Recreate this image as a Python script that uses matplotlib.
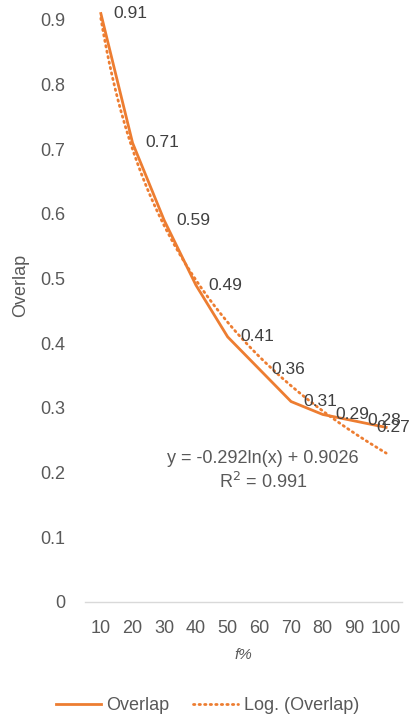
import numpy as np
import matplotlib
matplotlib.use("Agg")
import matplotlib.pyplot as plt
from matplotlib.lines import Line2D

categories = ["10", "20", "30", "40", "50", "60", "70", "80", "90", "100"]
overlap = [0.91, 0.71, 0.59, 0.49, 0.41, 0.36, 0.31, 0.29, 0.28, 0.27]
trend_a = -0.292
trend_b = 0.9026
yticks = [0, 0.1, 0.2, 0.3, 0.4, 0.5, 0.6, 0.7, 0.8, 0.9]

orange = "#ED7D31"
gray = "#595959"
plt.rcParams['font.family'] = ['Liberation Sans', 'DejaVu Sans']

fig = plt.figure(figsize=(4.15, 7.17), dpi=100)
ax = fig.add_axes([85/415, 1-602/717, 317/415, 582/717])

x = np.arange(1, len(categories) + 1)
ax.plot(x, overlap, color=orange, lw=2.0, clip_on=False, solid_joinstyle='miter', zorder=3)
xt = np.linspace(1, len(categories), 200)
ax.plot(xt, trend_a * np.log(xt) + trend_b, color=orange, lw=2.0,
        linestyle=(0, (0.5, 1.5)), dash_capstyle='round', clip_on=False, zorder=2)

for i, (xi, v) in enumerate(zip(x, overlap)):
    dx = 9 if i < len(overlap) - 1 else -7
    ax.annotate(f"{v:.2f}", (xi, v), xytext=(dx, 0), textcoords='offset points',
                ha='left', va='center', fontsize=12.5, color='#404040', zorder=4,
                annotation_clip=False)

ax.text(6.12, 0.203, "y = -0.292ln(x) + 0.9026\nR$^2$ = 0.991", ha='center', va='center',
        fontsize=13, color=gray, linespacing=1.3)

ax.set_xlim(0.5, len(categories) + 0.5)
ax.set_ylim(0, 0.9)
ax.set_xticks(x)
ax.set_xticklabels(categories)
ax.set_yticks(yticks)
ax.set_yticklabels([f"{t:g}" for t in yticks])
ax.tick_params(length=0, labelsize=13, colors=gray)
ax.tick_params(axis='x', pad=13)
ax.tick_params(axis='y', pad=14)
for s in ['top', 'right', 'left']:
    ax.spines[s].set_visible(False)
ax.spines['bottom'].set_color('#D9D9D9')
ax.spines['bottom'].set_linewidth(1)

fig.text(21/415, 1-285/717, "Overlap", rotation=90, ha='center', va='center',
         fontsize=13, color=gray)
ax.set_xlabel("f%", fontsize=11, color=gray, style='italic', labelpad=8)

handles = [Line2D([], [], color=orange, lw=2.0),
           Line2D([], [], color=orange, lw=2.0, linestyle=(0, (0.5, 1.5)), dash_capstyle='round')]
fig.legend(handles, ["Overlap", "Log. (Overlap)"], loc='center', bbox_to_anchor=(0.5, 1-706/717),
           ncol=2, frameon=False, fontsize=13, labelcolor=gray, handlelength=2.5,
           handletextpad=0.3, columnspacing=1.3)

fig.savefig("out.png", dpi=100)
